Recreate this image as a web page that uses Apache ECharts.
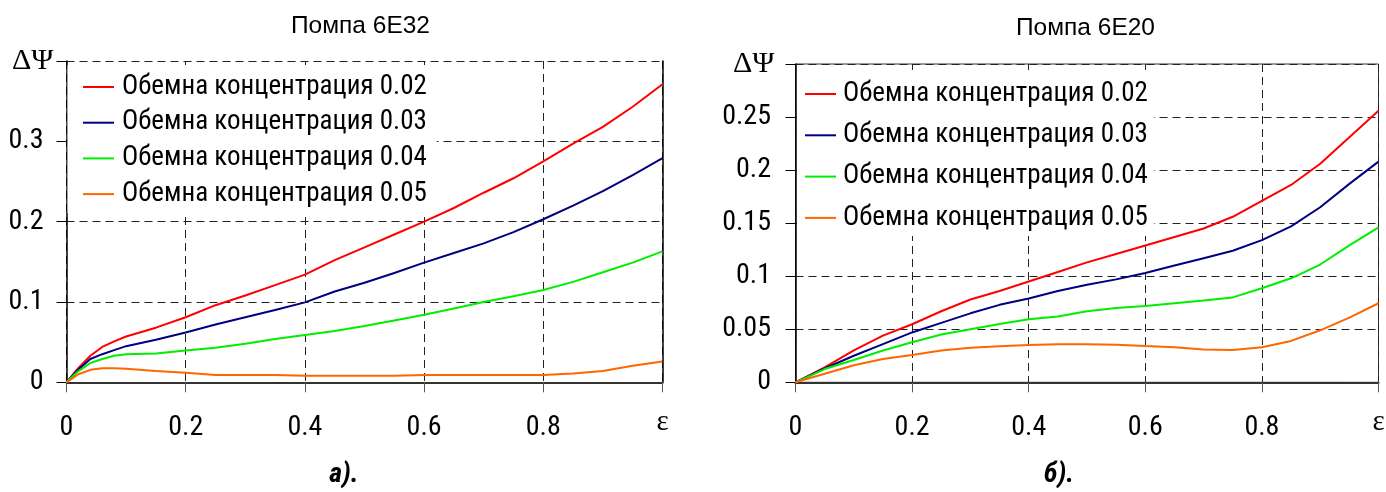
<!DOCTYPE html>
<html><head><meta charset="utf-8">
<script src="https://cdn.jsdelivr.net/npm/echarts@6/dist/echarts.min.js"></script>
<style>html,body{margin:0;padding:0;background:#fff}#c{width:1386px;height:492px}</style>
</head><body><div id="c"></div>
<script>
// ---------- data ----------
const seriesNames = ['Обемна концентрация 0.02','Обемна концентрация 0.03','Обемна концентрация 0.04','Обемна концентрация 0.05'];
const seriesColors = ['#ff0000','#000080','#00ee00','#ff6600'];
const titleA = 'Помпа 6E32';
const titleB = 'Помпа 6E20';
const captionA = 'а).';
const captionB = 'б).';
const yNameText = 'ΔΨ';
const xNameText = 'ε';
const xTickLabels = ['0','0.2','0.4','0.6','0.8',''];
const yTickLabelsA = ['0','0.1','0.2','0.3',''];
const yTickLabelsB = ['0','0.05','0.1','0.15','0.2','0.25',''];

// Pump 6E32 (a)
const epsA = [0,0.02,0.04,0.06,0.08,0.1,0.15,0.2,0.25,0.3,0.35,0.4,0.45,0.5,0.55,0.6,0.65,0.7,0.75,0.8,0.85,0.9,0.95,1.0];
const psiA002 = [0,0.018,0.033,0.044,0.051,0.057,0.068,0.081,0.096,0.108,0.121,0.134,0.152,0.168,0.184,0.200,0.217,0.236,0.254,0.275,0.297,0.318,0.343,0.371];
const psiA003 = [0,0.016,0.029,0.035,0.040,0.045,0.053,0.062,0.072,0.081,0.090,0.0995,0.113,0.124,0.136,0.149,0.161,0.173,0.187,0.203,0.220,0.238,0.258,0.279];
const psiA004 = [0,0.014,0.024,0.029,0.033,0.035,0.036,0.0395,0.043,0.048,0.054,0.059,0.064,0.070,0.077,0.084,0.092,0.100,0.107,0.115,0.125,0.137,0.149,0.163];
const psiA005 = [0,0.010,0.0155,0.0175,0.0175,0.017,0.014,0.012,0.009,0.009,0.009,0.008,0.008,0.008,0.008,0.009,0.009,0.009,0.009,0.009,0.011,0.014,0.0205,0.026];

// Pump 6E20 (b)
const epsB = [0,0.05,0.1,0.15,0.2,0.25,0.3,0.35,0.4,0.45,0.5,0.55,0.6,0.65,0.7,0.75,0.8,0.85,0.9,0.95,1.0];
const psiB002 = [0,0.014,0.030,0.044,0.0547,0.067,0.078,0.086,0.095,0.104,0.113,0.121,0.129,0.137,0.145,0.156,0.171,0.186,0.206,0.231,0.256];
const psiB003 = [0,0.013,0.025,0.036,0.047,0.056,0.065,0.073,0.079,0.086,0.092,0.097,0.103,0.110,0.117,0.124,0.134,0.147,0.165,0.187,0.208];
const psiB004 = [0,0.0125,0.021,0.030,0.0377,0.045,0.050,0.055,0.0594,0.062,0.067,0.070,0.072,0.0745,0.077,0.080,0.0887,0.098,0.111,0.129,0.146];
const psiB005 = [0,0.008,0.016,0.022,0.0258,0.030,0.0325,0.034,0.0352,0.0358,0.0358,0.0355,0.0342,0.033,0.031,0.0305,0.033,0.039,0.049,0.061,0.0745];

// ---------- chart ----------
const NARROW = "'Roboto Condensed','Liberation Sans Narrow','Liberation Sans',sans-serif";
const SANS = "'Liberation Sans',Arial,sans-serif";
const SERIF = "'Liberation Serif','Times New Roman',serif";
const zip = (xs, ys) => xs.map((x, i) => [x, ys[i]]);
const dash = [8, 5];

const chart = echarts.init(document.getElementById('c'), null, {renderer: 'canvas'});

function xAxisCfg(gi) {
  return {
    type: 'value', gridIndex: gi, min: 0, max: 1, interval: 0.2,
    name: xNameText, nameLocation: 'end', nameGap: 0,
    nameTextStyle: {fontFamily: SERIF, fontSize: 29, color: '#000', align: 'center', verticalAlign: 'top', padding: [26, 0, 0, 0]},
    axisLine: {show: true, onZero: false, lineStyle: {color: '#333', width: 2}},
    axisTick: {show: true, inside: false, length: 10, lineStyle: {color: '#555', width: 1}},
    axisLabel: {margin: 32, color: '#000', fontFamily: NARROW, fontSize: 28, formatter: (v, i) => xTickLabels[i]},
    splitLine: {show: true, lineStyle: {color: '#222', width: 1, type: dash}}
  };
}
function yAxisCfg(gi, max, interval, labels, margin, namePad) {
  return {
    type: 'value', gridIndex: gi, min: 0, max: max, interval: interval,
    name: yNameText, nameLocation: 'end', nameGap: 0,
    nameTextStyle: {fontFamily: SERIF, fontSize: 30, color: '#000', align: 'right', verticalAlign: 'middle', padding: namePad},
    axisLine: {show: true, lineStyle: {color: '#000', width: 1.5}},
    axisTick: {show: true, inside: false, length: 10, lineStyle: {color: '#000', width: 1}},
    axisLabel: {margin: margin, color: '#000', fontFamily: NARROW, fontSize: 28, formatter: (v, i) => labels[i]},
    splitLine: {show: true, lineStyle: {color: '#222', width: 1, type: dash}}
  };
}

const option = {
  animation: false,
  backgroundColor: '#fff',
  title: [
    {text: titleA, left: 360.5, top: 14, textAlign: 'center', padding: 0, textStyle: {fontFamily: SANS, fontSize: 24.5, fontWeight: 'normal', color: '#000'}},
    {text: titleB, left: 1085.5, top: 16, textAlign: 'center', padding: 0, textStyle: {fontFamily: SANS, fontSize: 24.5, fontWeight: 'normal', color: '#000'}},
    {text: captionA, left: 344, top: 461, textAlign: 'center', padding: 0, textStyle: {fontFamily: NARROW, fontSize: 28, fontWeight: 'bold', fontStyle: 'italic', color: '#000'}},
    {text: captionB, left: 1059, top: 461, textAlign: 'center', padding: 0, textStyle: {fontFamily: NARROW, fontSize: 28, fontWeight: 'bold', fontStyle: 'italic', color: '#000'}}
  ],
  grid: [
    {left: 66.5, top: 61, width: 596, height: 321.3, outerBoundsMode: 'none', containLabel: false},
    {left: 795.5, top: 64, width: 583, height: 318.3, outerBoundsMode: 'none', containLabel: false,
     show: true, borderColor: '#333', borderWidth: 1, backgroundColor: 'transparent'}
  ],
  xAxis: [xAxisCfg(0), xAxisCfg(1)],
  yAxis: [
    yAxisCfg(0, 0.4, 0.1, yTickLabelsA, 23, [0, 13, 0, 0]),
    yAxisCfg(1, 0.3, 0.05, yTickLabelsB, 24.5, [4, 21, 0, 0]),
    {type: 'value', gridIndex: 0, position: 'right', min: 0, max: 0.4, interval: 0.1,
     axisLine: {show: true, lineStyle: {color: '#000', width: 1.5}}, axisTick: {show: false},
     axisLabel: {show: false}, splitLine: {show: false}}
  ],
  legend: [
    {left: 67.5, top: 65, orient: 'vertical', padding: [7, 10, 4, 15.5], itemGap: 5.7,
     backgroundColor: '#fff', icon: 'rect', itemWidth: 31, itemHeight: 2, data: seriesNames,
     textStyle: {fontFamily: NARROW, fontSize: 27, lineHeight: 30, color: '#000', padding: [0, 0, 0, 3]}},
    {left: 797, top: 70, orient: 'vertical', padding: [9, 6, 3, 8], itemGap: 11.3,
     backgroundColor: '#fff', icon: 'rect', itemWidth: 31, itemHeight: 2, data: seriesNames,
     textStyle: {fontFamily: NARROW, fontSize: 27, lineHeight: 30, color: '#000', padding: [0, 0, 0, 2]}}
  ],
  series: []
};

const psiA = [psiA002, psiA003, psiA004, psiA005];
const psiB = [psiB002, psiB003, psiB004, psiB005];
psiA.forEach((ys, k) => option.series.push({
  type: 'line', name: seriesNames[k], xAxisIndex: 0, yAxisIndex: 0, data: zip(epsA, ys),
  showSymbol: false, symbol: 'none', silent: true, color: seriesColors[k],
  lineStyle: {color: seriesColors[k], width: 2}, emphasis: {disabled: true}
}));
psiB.forEach((ys, k) => option.series.push({
  type: 'line', name: seriesNames[k], xAxisIndex: 1, yAxisIndex: 1, data: zip(epsB, ys),
  showSymbol: false, symbol: 'none', silent: true, color: seriesColors[k],
  lineStyle: {color: seriesColors[k], width: 2}, emphasis: {disabled: true}
}));

chart.setOption(option);
</script>
</body></html>
